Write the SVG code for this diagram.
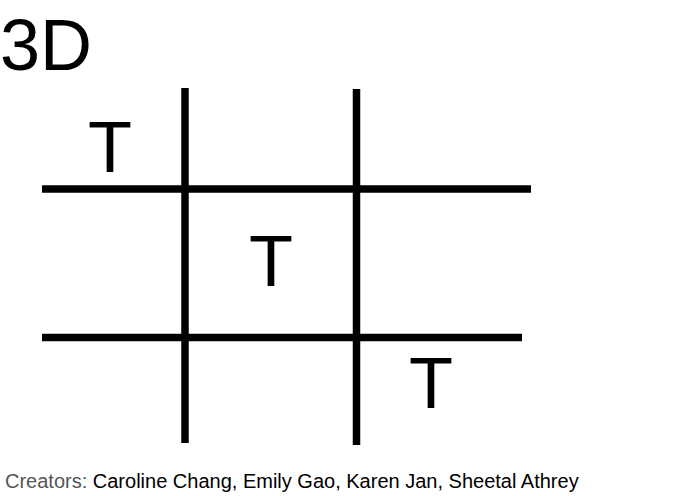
<svg xmlns="http://www.w3.org/2000/svg" width="680" height="496" viewBox="0 0 680 496">
<style>
.ln{stroke:#000;stroke-width:7.5;fill:none}
.big{font-family:"Liberation Sans",Arial,sans-serif;font-size:72px;fill:#000}
.t{text-anchor:middle}
.cr{font-family:"Liberation Sans",Arial,sans-serif;font-size:20px;fill:#000}
</style>
<rect width="680" height="496" fill="#fff"/>
<text class="big" x="0" y="70">3D</text>
<g id="grid">
<line class="ln" x1="42" y1="189" x2="531" y2="189"/>
<line class="ln" x1="42" y1="337.5" x2="522" y2="337.5"/>
<line class="ln" x1="185" y1="88" x2="185" y2="443"/>
<line class="ln" x1="356.5" y1="89" x2="356.5" y2="445"/>
</g>
<g id="marks">
<text class="big t" x="110" y="172">T</text>
<text class="big t" x="271" y="286">T</text>
<text class="big t" x="431" y="408">T</text>
</g>
<text class="cr" x="5" y="488"><tspan fill="#555">Creators:</tspan> Caroline Chang, Emily Gao, Karen Jan, Sheetal Athrey</text>
</svg>
